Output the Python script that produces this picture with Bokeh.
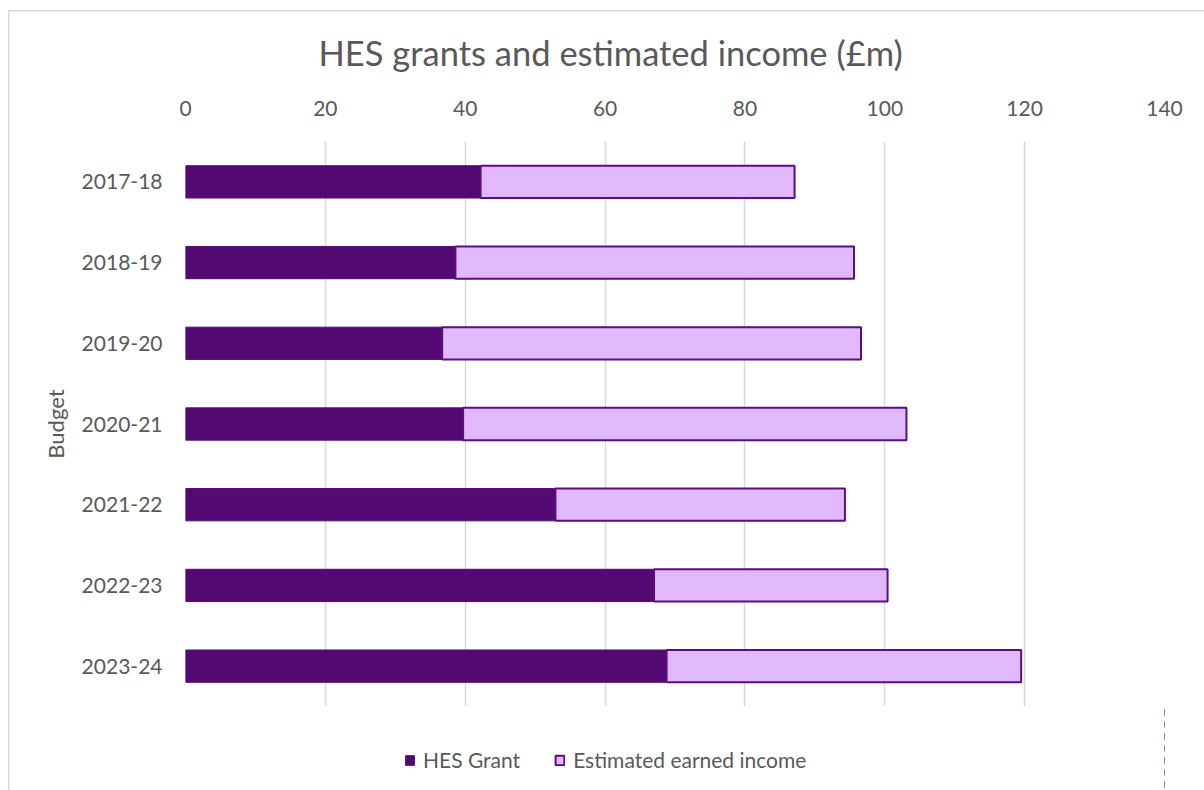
from bokeh.plotting import figure
from bokeh.layouts import column
from bokeh.models import (ColumnDataSource, FactorRange, Range1d, Legend, LegendItem,
                          FixedTicker, BoxAnnotation)
from bokeh.embed import file_html
from bokeh.resources import INLINE

years = ["2017-18", "2018-19", "2019-20", "2020-21", "2021-22", "2022-23", "2023-24"]
hes_grant = [42.2, 38.6, 36.7, 39.7, 52.9, 67.0, 68.8]
earned_income = [44.9, 57.0, 59.9, 63.4, 41.4, 33.4, 50.7]
x_ticks = [0, 20, 40, 60, 80, 100, 120, 140]
series_names = ["HES Grant", "Estimated earned income"]

FONT = "Lato"
TEXT = "#595959"
DARK = "#520A72"
LIGHT = "#E1B9FB"
EDGE = "#5A0E82"
BORDER = "#D9D9D9"

totals = [g + e for g, e in zip(hes_grant, earned_income)]
src = ColumnDataSource(dict(year=years, grant=hes_grant, income=earned_income,
                            total=totals, zero=[0] * len(years)))

p = figure(frame_width=979, frame_height=565, output_backend="svg", toolbar_location=None,
           y_range=FactorRange(factors=list(reversed(years))),
           x_range=Range1d(0, 140), x_axis_location="above",
           min_border_left=185, min_border_right=40, min_border_top=141,
           min_border_bottom=0,
           title="HES grants and estimated income (£m)")
p.outline_line_color = None
p.background_fill_color = "white"
p.border_fill_alpha = 0
grad = f"linear-gradient({BORDER},{BORDER})"
p.styles = {
    "background-color": "white",
    "background-image": f"{grad}, {grad}",
    "background-position": "8px 10px, 8px 10px",
    "background-size": "1.5px 100%, 100% 1.5px",
    "background-repeat": "no-repeat",
}

p.title.align = "left"
p.title.offset = 133
p.title.standoff = 50
p.title.text_font = FONT
p.title.text_font_size = "34.5px"
p.title.text_font_style = "normal"
p.title.text_color = TEXT

p.hbar(y="year", left="zero", right="grant", height=0.4, source=src,
       fill_color=DARK, line_color=DARK, line_width=1)
p.hbar(y="year", left="grant", right="total", height=0.4, source=src,
       fill_color=LIGHT, line_color=EDGE, line_width=2)

# axes
xa = p.xaxis[0]
xa.ticker = FixedTicker(ticks=x_ticks)
xa.axis_line_color = None
xa.major_tick_line_color = None
xa.minor_tick_line_color = None
xa.major_label_text_font = FONT
xa.major_label_text_font_size = "21px"
xa.major_label_text_color = TEXT
xa.major_label_standoff = 20

ya = p.yaxis[0]
ya.axis_line_color = None
ya.major_tick_line_color = None
ya.major_label_text_font = FONT
ya.major_label_text_font_size = "21px"
ya.major_label_text_color = TEXT
ya.major_label_standoff = 17
ya.axis_label = "Budget"
ya.axis_label_text_font = FONT
ya.axis_label_text_font_size = "22px"
ya.axis_label_text_font_style = "normal"
ya.axis_label_text_color = TEXT
ya.axis_label_standoff = 10

p.xgrid.grid_line_color = BORDER
p.xgrid.grid_line_width = 1.5
p.ygrid.grid_line_color = None

# legend strip below the chart (its keys sit outside its visible x range)
lg = figure(width=1204, height=84, output_backend="svg", toolbar_location=None,
            x_range=Range1d(-2, -1), y_range=FactorRange(factors=list(reversed(years))),
            x_axis_location=None, y_axis_location=None,
            min_border=0)
lg.outline_line_color = None
lg.grid.grid_line_color = None
lg.background_fill_alpha = 0
lg.border_fill_alpha = 0
lg.styles = {
    "background-color": "white",
    "background-image": grad,
    "background-position": "8px 0px",
    "background-size": "1.5px 100%",
    "background-repeat": "no-repeat",
}
k1 = lg.hbar(y="year", left="zero", right="grant", height=0.4, source=src,
             fill_color=DARK, line_color=DARK, line_width=1)
k2 = lg.hbar(y="year", left="grant", right="total", height=0.4, source=src,
             fill_color=LIGHT, line_color=EDGE, line_width=2)
# white mask above the key glyphs but below the legend
lg.add_layout(BoxAnnotation(fill_color="white", fill_alpha=1.0, line_color=None,
                            level="guide"))

legend = Legend(items=[LegendItem(label=series_names[0], renderers=[k1]),
                       LegendItem(label=series_names[1], renderers=[k2])],
                orientation="horizontal", location=(219, 18),
                label_text_font=FONT, label_text_font_size="21px",
                label_text_color=TEXT, glyph_width=11, glyph_height=12,
                label_standoff=8, spacing=34, padding=0, margin=0,
                border_line_color=None, background_fill_alpha=0)
lg.add_layout(legend, "center")

layout = column(p, lg, spacing=0)
open("out.html", "w").write(file_html(layout, INLINE))
